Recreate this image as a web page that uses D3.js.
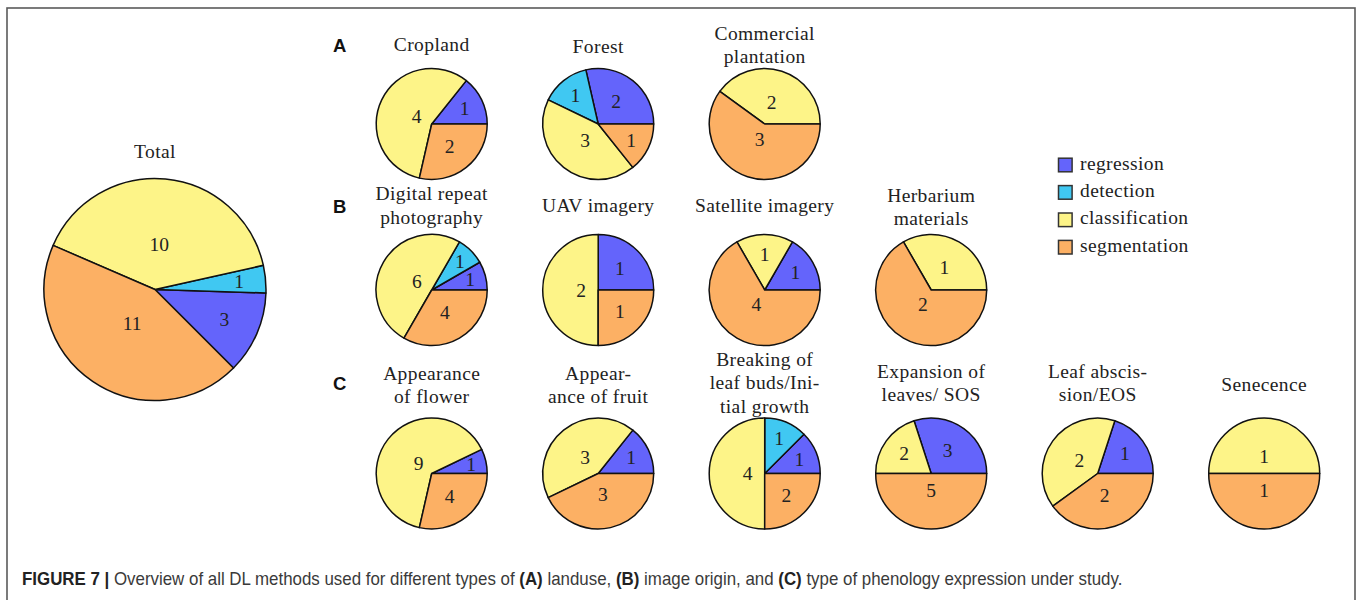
<!DOCTYPE html>
<html>
<head>
<meta charset="utf-8">
<script src="https://cdn.jsdelivr.net/npm/d3@7"></script>
<style>
  html, body { margin: 0; padding: 0; background: #fff; }
  svg { display: block; }
  .serif { font-family: "Liberation Serif", "DejaVu Serif", "Times New Roman", serif; }
  .sans { font-family: "Liberation Sans", Arial, "DejaVu Sans", sans-serif; }
</style>
</head>
<body>
<script>
// ---------------- data ----------------
const methods = ["regression", "detection", "classification", "segmentation"];
const methodColors = ["#6464fb", "#40c8f2", "#fdf488", "#fcb064"];

const totalTitle = ["Total"];
const totalValues = [3, 1, 10, 11];

const rowLetters = ["A", "B", "C"];

const landuseTitles = [["Cropland"], ["Forest"], ["Commercial", "plantation"]];
const landuseValues = [[1, 0, 4, 2], [2, 1, 3, 1], [0, 0, 2, 3]];

const originTitles = [["Digital repeat", "photography"], ["UAV imagery"], ["Satellite imagery"], ["Herbarium", "materials"]];
const originValues = [[1, 1, 6, 4], [1, 0, 2, 1], [1, 0, 1, 4], [0, 0, 1, 2]];

const phenoTitles = [["Appearance", "of flower"], ["Appear-", "ance of fruit"], ["Breaking of", "leaf buds/Ini-", "tial growth"],
                     ["Expansion of", "leaves/ SOS"], ["Leaf abscis-", "sion/EOS"], ["Senecence"]];
const phenoValues = [[1, 0, 9, 4], [1, 0, 3, 3], [1, 1, 4, 2], [3, 0, 2, 5], [1, 0, 2, 2], [0, 0, 1, 1]];

const captionParts = [
  ["FIGURE 7 |", true], [" Overview of all DL methods used for different types of ", false],
  ["(A)", true], [" landuse, ", false], ["(B)", true], [" image origin, and ", false],
  ["(C)", true], [" type of phenology expression under study.", false]
];

// ---------------- layout ----------------
const W = 1358, H = 600;
const R = 55.5;
const fs = 19.5, lineH = 23.3, ascH = 12.4, descH = 3.7;

const svg = d3.select("body").append("svg").attr("width", W).attr("height", H);

svg.append("rect").attr("x", 7).attr("y", 8).attr("width", 1348).attr("height", 620)
  .attr("fill", "none").attr("stroke", "#5a5a5a").attr("stroke-width", 1.6);

const color = d3.scaleOrdinal().domain(methods).range(methodColors);
const colX = d3.scaleLinear().domain([0, 5]).range([431.7, 1264.2]);
const rowPieY = d3.scaleOrdinal().domain([0, 1, 2]).range([124, 290, 473.5]);
const rowTitleY = d3.scaleOrdinal().domain([0, 1, 2]).range([47, 207.5, 385]);

function drawTitle(lines, cx, cy) {
  const n = lines.length;
  const hasDesc = /[gpqyj\/(]/.test(lines[n - 1]);
  const total = ascH + (n - 1) * lineH + (hasDesc ? descH : 0);
  const b1 = cy - total / 2 + ascH;
  const t = svg.append("text").attr("class", "serif").attr("text-anchor", "middle")
    .attr("font-size", fs).attr("fill", "#222").attr("letter-spacing", 0.4);
  lines.forEach((l, i) => {
    t.append("tspan").attr("x", cx).attr("y", b1 + i * lineH).text(l);
  });
}

function drawPie(values, cx, cy, r, startDeg) {
  const data = methods.map((m, i) => ({ m, v: values[i] })).filter(d => d.v > 0);
  const a0 = (90 - startDeg) * Math.PI / 180;
  const pie = d3.pie().sort(null).value(d => d.v).startAngle(a0).endAngle(a0 - 2 * Math.PI);
  const arcs = pie(data);
  const arc = d3.arc().innerRadius(0).outerRadius(r);
  const g = svg.append("g").attr("transform", `translate(${cx},${cy})`);
  g.selectAll("path").data(arcs).join("path")
    .attr("d", arc)
    .attr("fill", d => color(d.data.m))
    .attr("stroke", "#111").attr("stroke-width", 1.5).attr("stroke-linejoin", "round");
  g.selectAll("text").data(arcs).join("text")
    .attr("class", "serif")
    .attr("transform", d => {
      const span = Math.abs(d.endAngle - d.startAngle) * 180 / Math.PI;
      const frac = Math.max(Math.min(-0.3 * span / 110, 0), -0.5) + 0.8;
      const mid = (d.startAngle + d.endAngle) / 2;
      const rr = frac * r;
      return `translate(${rr * Math.sin(mid)},${-rr * Math.cos(mid)})`;
    })
    .attr("text-anchor", "middle").attr("dy", "0.34em")
    .attr("font-size", fs).attr("fill", "#222")
    .text(d => d.data.v);
}

// Total
drawTitle(totalTitle, 155, 152);
drawPie(totalValues, 155, 289.5, 2 * R, -45);

// rows
const rows = [[landuseTitles, landuseValues], [originTitles, originValues], [phenoTitles, phenoValues]];
rows.forEach(([titles, vals], ri) => {
  svg.append("text").attr("class", "sans").attr("x", 333).attr("y", rowTitleY(ri) + 5)
    .attr("font-weight", "bold").attr("font-size", 18.5)
    .attr("fill", "#111").text(rowLetters[ri]);
  titles.forEach((t, ci) => {
    drawTitle(t, colX(ci), rowTitleY(ri));
    drawPie(vals[ci], colX(ci), rowPieY(ri), R, 0);
  });
});

// legend
const legY = d3.scaleLinear().domain([0, 3]).range([165, 247.2]);
const leg = svg.append("g");
methods.forEach((m, i) => {
  leg.append("rect").attr("x", 1058.5).attr("y", legY(i) - 6.8).attr("width", 13.6).attr("height", 13.6)
    .attr("fill", color(m)).attr("stroke", "#333").attr("stroke-width", 1.5);
  leg.append("text").attr("class", "serif").attr("x", 1080).attr("y", legY(i) + 4.5)
    .attr("font-size", fs).attr("fill", "#222")
    .attr("letter-spacing", 0.4).text(m);
});

// caption
const capG = svg.append("g");
const cap = capG.append("text").attr("class", "sans").attr("x", 0).attr("y", 0)
  .attr("font-size", 17.5).attr("fill", "#333");
captionParts.forEach(([t, b]) => {
  cap.append("tspan").attr("font-weight", b ? "bold" : "normal").attr("fill", b ? "#222" : "#3a3a3a").text(t);
});
// condensed look: fit whole caption between x=22 and x≈1123
const fullLen = cap.node().getComputedTextLength();
const sx = (1123 - 22) / fullLen;
capG.attr("transform", `translate(22,585) scale(${sx},1)`);
</script>
</body>
</html>
